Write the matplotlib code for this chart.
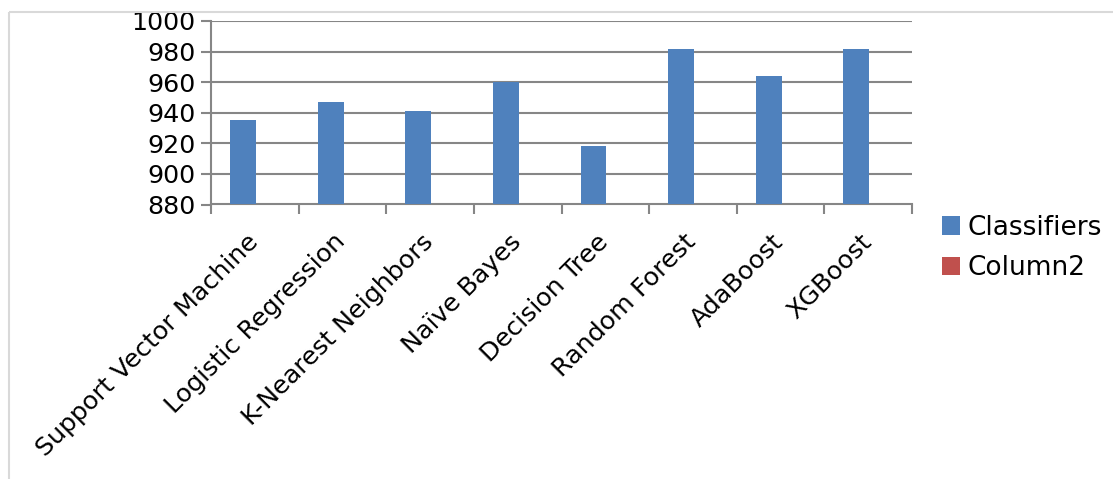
import matplotlib
matplotlib.use("Agg")
import matplotlib.pyplot as plt
import matplotlib.transforms as mtransforms
from matplotlib.patches import Patch
from matplotlib.lines import Line2D
import numpy as np

categories = ["Support Vector Machine", "Logistic Regression", "K-Nearest Neighbors",
              "Naïve Bayes", "Decision Tree", "Random Forest", "AdaBoost", "XGBoost"]
classifiers = [935, 947, 941, 960, 918, 982, 964, 982]
series_names = ["Classifiers", "Column2"]
series_colors = ["#4f81bd", "#c0504d"]
y_ticks = [880, 900, 920, 940, 960, 980, 1000]

W, H = 1113, 479
fig = plt.figure(figsize=(W / 100, H / 100), dpi=100)
ax = fig.add_axes([211 / W, 1 - 204.5 / H, (912 - 211) / W, (204.5 - 21) / H])

grid_c = "#868686"
fs = 18.3
x = np.arange(len(categories))
ax.bar(x + 0.365, classifiers, width=0.295, color=series_colors[0], align="center", zorder=3)

ax.set_xlim(0, len(categories))
ax.set_ylim(880, 1000)
ax.set_yticks(y_ticks)
ax.set_yticklabels([str(v) for v in y_ticks], fontsize=fs)
ax.yaxis.grid(True, color=grid_c, linewidth=1.5, zorder=0)

ax.set_xticks(np.arange(len(categories) + 1))
ax.set_xticklabels([])
ax.set_xticks(x + 0.5, minor=True)
ax.set_xticklabels(categories, minor=True, rotation=45, ha="right",
                   rotation_mode="anchor", fontsize=fs)
ax.tick_params(axis="x", which="minor", length=0, pad=8)
ax.tick_params(axis="x", which="major", length=7, width=1.5, color=grid_c)
ax.tick_params(axis="y", length=7, width=1.5, color=grid_c, pad=4)

# nudge the slanted category labels down and to the left
shift = mtransforms.ScaledTranslation(-9 / 100, -14 / 100, fig.dpi_scale_trans)
for lbl in ax.get_xticklabels(minor=True):
    lbl.set_transform(lbl.get_transform() + shift)

for side in ["top", "right"]:
    ax.spines[side].set_visible(False)
for side in ["left", "bottom"]:
    ax.spines[side].set_color(grid_c)
    ax.spines[side].set_linewidth(1.5)

handles = [Patch(facecolor=c, edgecolor="none") for c in series_colors]
fig.legend(handles, series_names, loc="center left",
           bbox_to_anchor=(942 / W, 1 - 248 / H), frameon=False,
           fontsize=19, handlelength=0.68, handleheight=0.68,
           handletextpad=0.3, labelspacing=0.55, borderaxespad=0, borderpad=0)

# light outer chart frame
frame_c = "#d9d9d9"
fig.add_artist(Line2D([8.5 / W, 1], [1 - 12 / H, 1 - 12 / H], transform=fig.transFigure,
                      color=frame_c, linewidth=1.5, solid_capstyle="butt"))
fig.add_artist(Line2D([8.5 / W, 8.5 / W], [0, 1 - 12 / H], transform=fig.transFigure,
                      color=frame_c, linewidth=1.5, solid_capstyle="butt"))

fig.savefig("out.png", dpi=100)
